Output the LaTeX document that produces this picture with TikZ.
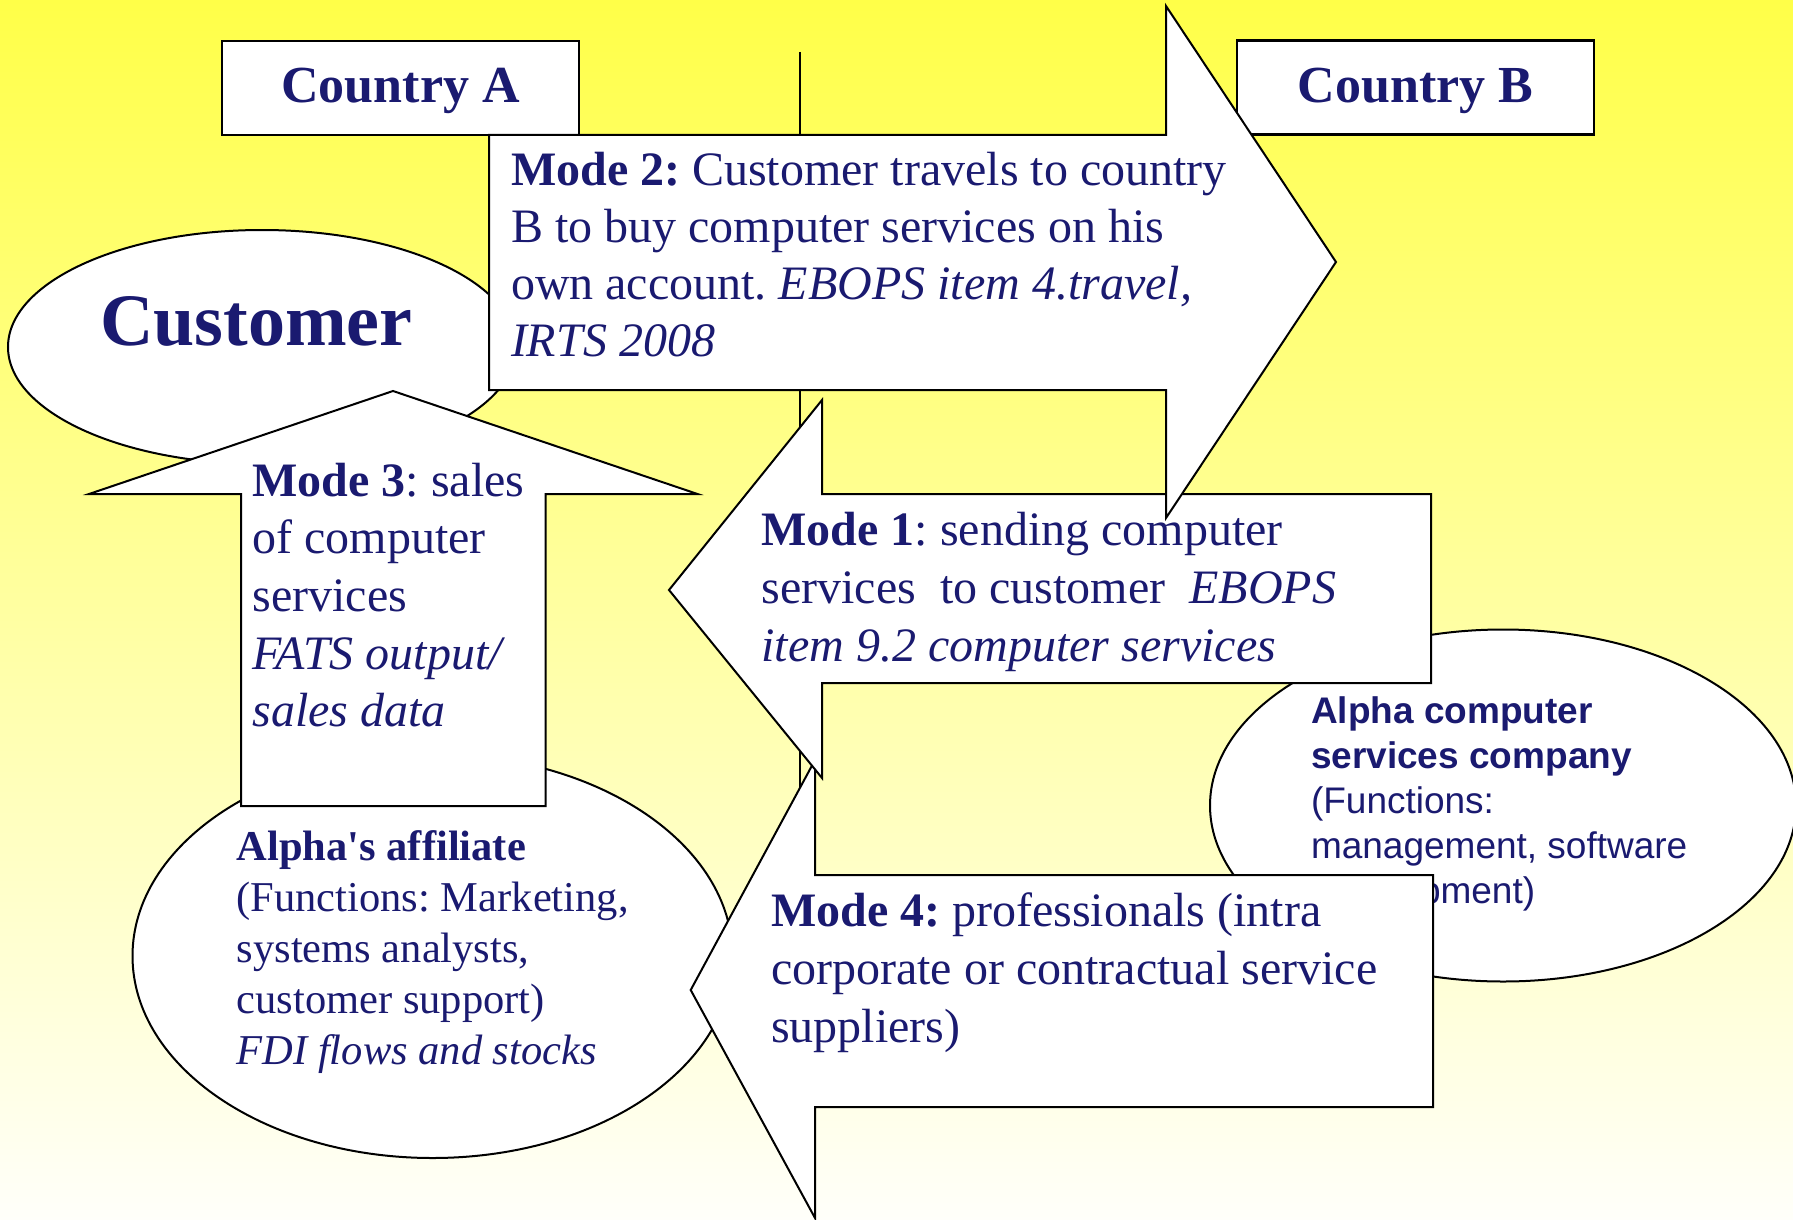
\documentclass[tikz,border=0pt]{standalone}
\usepackage{fontspec}
\setmainfont{Liberation Serif}[Ligatures=TeXOff]
\setsansfont{Liberation Sans}[Ligatures=TeXOff]
\definecolor{ink}{RGB}{26,26,112}
\definecolor{bgtop}{RGB}{255,255,72}
\definecolor{bgbot}{RGB}{255,255,250}
\newcommand{\fsz}[2]{\fontsize{#1}{#2}\selectfont}
\newcommand{\mlines}[1]{\begin{tabular}[t]{@{}l@{}}#1\end{tabular}}
\frenchspacing
\begin{document}
\begin{tikzpicture}[x=0.5pt,y=-0.5pt,
  shapeline/.style={draw=black, fill=white, line width=1pt, line join=miter},
  boxline/.style={draw=black, fill=white, line width=1.4pt},
  txt/.style={text=ink, inner sep=0pt, outer sep=0pt, anchor=base west},
]
\useasboundingbox (0,0) rectangle (1793,1220);
\shade[top color=bgtop, bottom color=bgbot] (0,0) rectangle (1793,1220);

% divider between the countries
\coordinate (divtop) at (800,52);
\coordinate (divbot) at (800,1100);
\draw[line width=1pt] (divtop) -- (divbot);

% Customer
\draw[shapeline] (262,347) ellipse [x radius=254, y radius=117];
\node[txt, font=\bfseries\fsz{37}{44}] (customer) at (100,345) {Customer};

% Alpha's affiliate
\draw[shapeline] (432.5,956) ellipse [x radius=300, y radius=202];
\node[txt, font=\fsz{21.25}{25.6}] (affiliate) at (236.7,860)
  {\mlines{\textbf{Alpha's affiliate}\\ (Functions: Marketing,\\ systems analysts,\\ customer support)\\ \textit{FDI flows and stocks}}};

% Alpha computer services company
\draw[shapeline] (1503,805.5) ellipse [x radius=293, y radius=176];
\node[txt, font=\sffamily\fsz{18.5}{22.5}] (alpha) at (1311,723)
  {\mlines{\textbf{Alpha computer}\\ \textbf{services company}\\ (Functions:\\ management, software\\ development)}};

% Country boxes
\node[boxline, minimum width=178.5pt, minimum height=47pt, inner sep=0pt] (boxA) at (400.5,88) {};
\node[txt, font=\bfseries\fsz{26}{30}, anchor=base] (ctyA) at (400.5,103) {Country A};
\node[boxline, minimum width=178.5pt, minimum height=47pt, inner sep=0pt] (boxB) at (1415.5,87.5) {};
\node[txt, font=\bfseries\fsz{26}{30}, anchor=base] (ctyB) at (1415.5,103) {Country B};

% Mode 3 arrow (up)
\draw[shapeline] (241,806) -- (241,494) -- (89,494) -- (393,391) -- (697.5,494)
  -- (545.5,494) -- (545.5,806) -- cycle;
\node[txt, font=\fsz{24}{28.85}] (m3) at (252.6,496)
  {\mlines{\textbf{Mode 3}: sales\\ of computer\\ services\\ \textit{FATS output/}\\ \textit{sales data}}};

% Mode 4 arrow (left)
\draw[shapeline] (1433,875) -- (815,875) -- (815,760) -- (690.7,990) -- (815,1218)
  -- (815,1107) -- (1433,1107) -- cycle;
\node[txt, font=\fsz{24}{29}] (m4) at (771,926.7)
  {\mlines{\textbf{Mode 4:} professionals (intra\\ corporate or contractual service\\ suppliers)}};

% Mode 1 arrow (left)
\draw[shapeline] (1431,494) -- (822,494) -- (822,400) -- (669,590) -- (822,778)
  -- (822,683) -- (1431,683) -- cycle;

% Mode 2 arrow (right)
\draw[shapeline] (489,135) -- (1166,135) -- (1166,6) -- (1336,262) -- (1166,518)
  -- (1166,390) -- (489,390) -- cycle;

\node[txt, font=\fsz{24}{29}] (m1) at (761.5,545.5)
  {\mlines{\textbf{Mode 1}: sending computer\\ services\ \ to customer\ \ \textit{EBOPS}\\ \textit{item 9.2 computer services}}};
\node[txt, font=\fsz{24}{28.5}] (m2) at (511,185.5)
  {\mlines{\textbf{Mode 2:} Customer travels to country\\ B to buy computer services on his\\ own account. \textit{EBOPS item 4.travel,}\\ \textit{IRTS 2008}}};
\end{tikzpicture}
\end{document}
